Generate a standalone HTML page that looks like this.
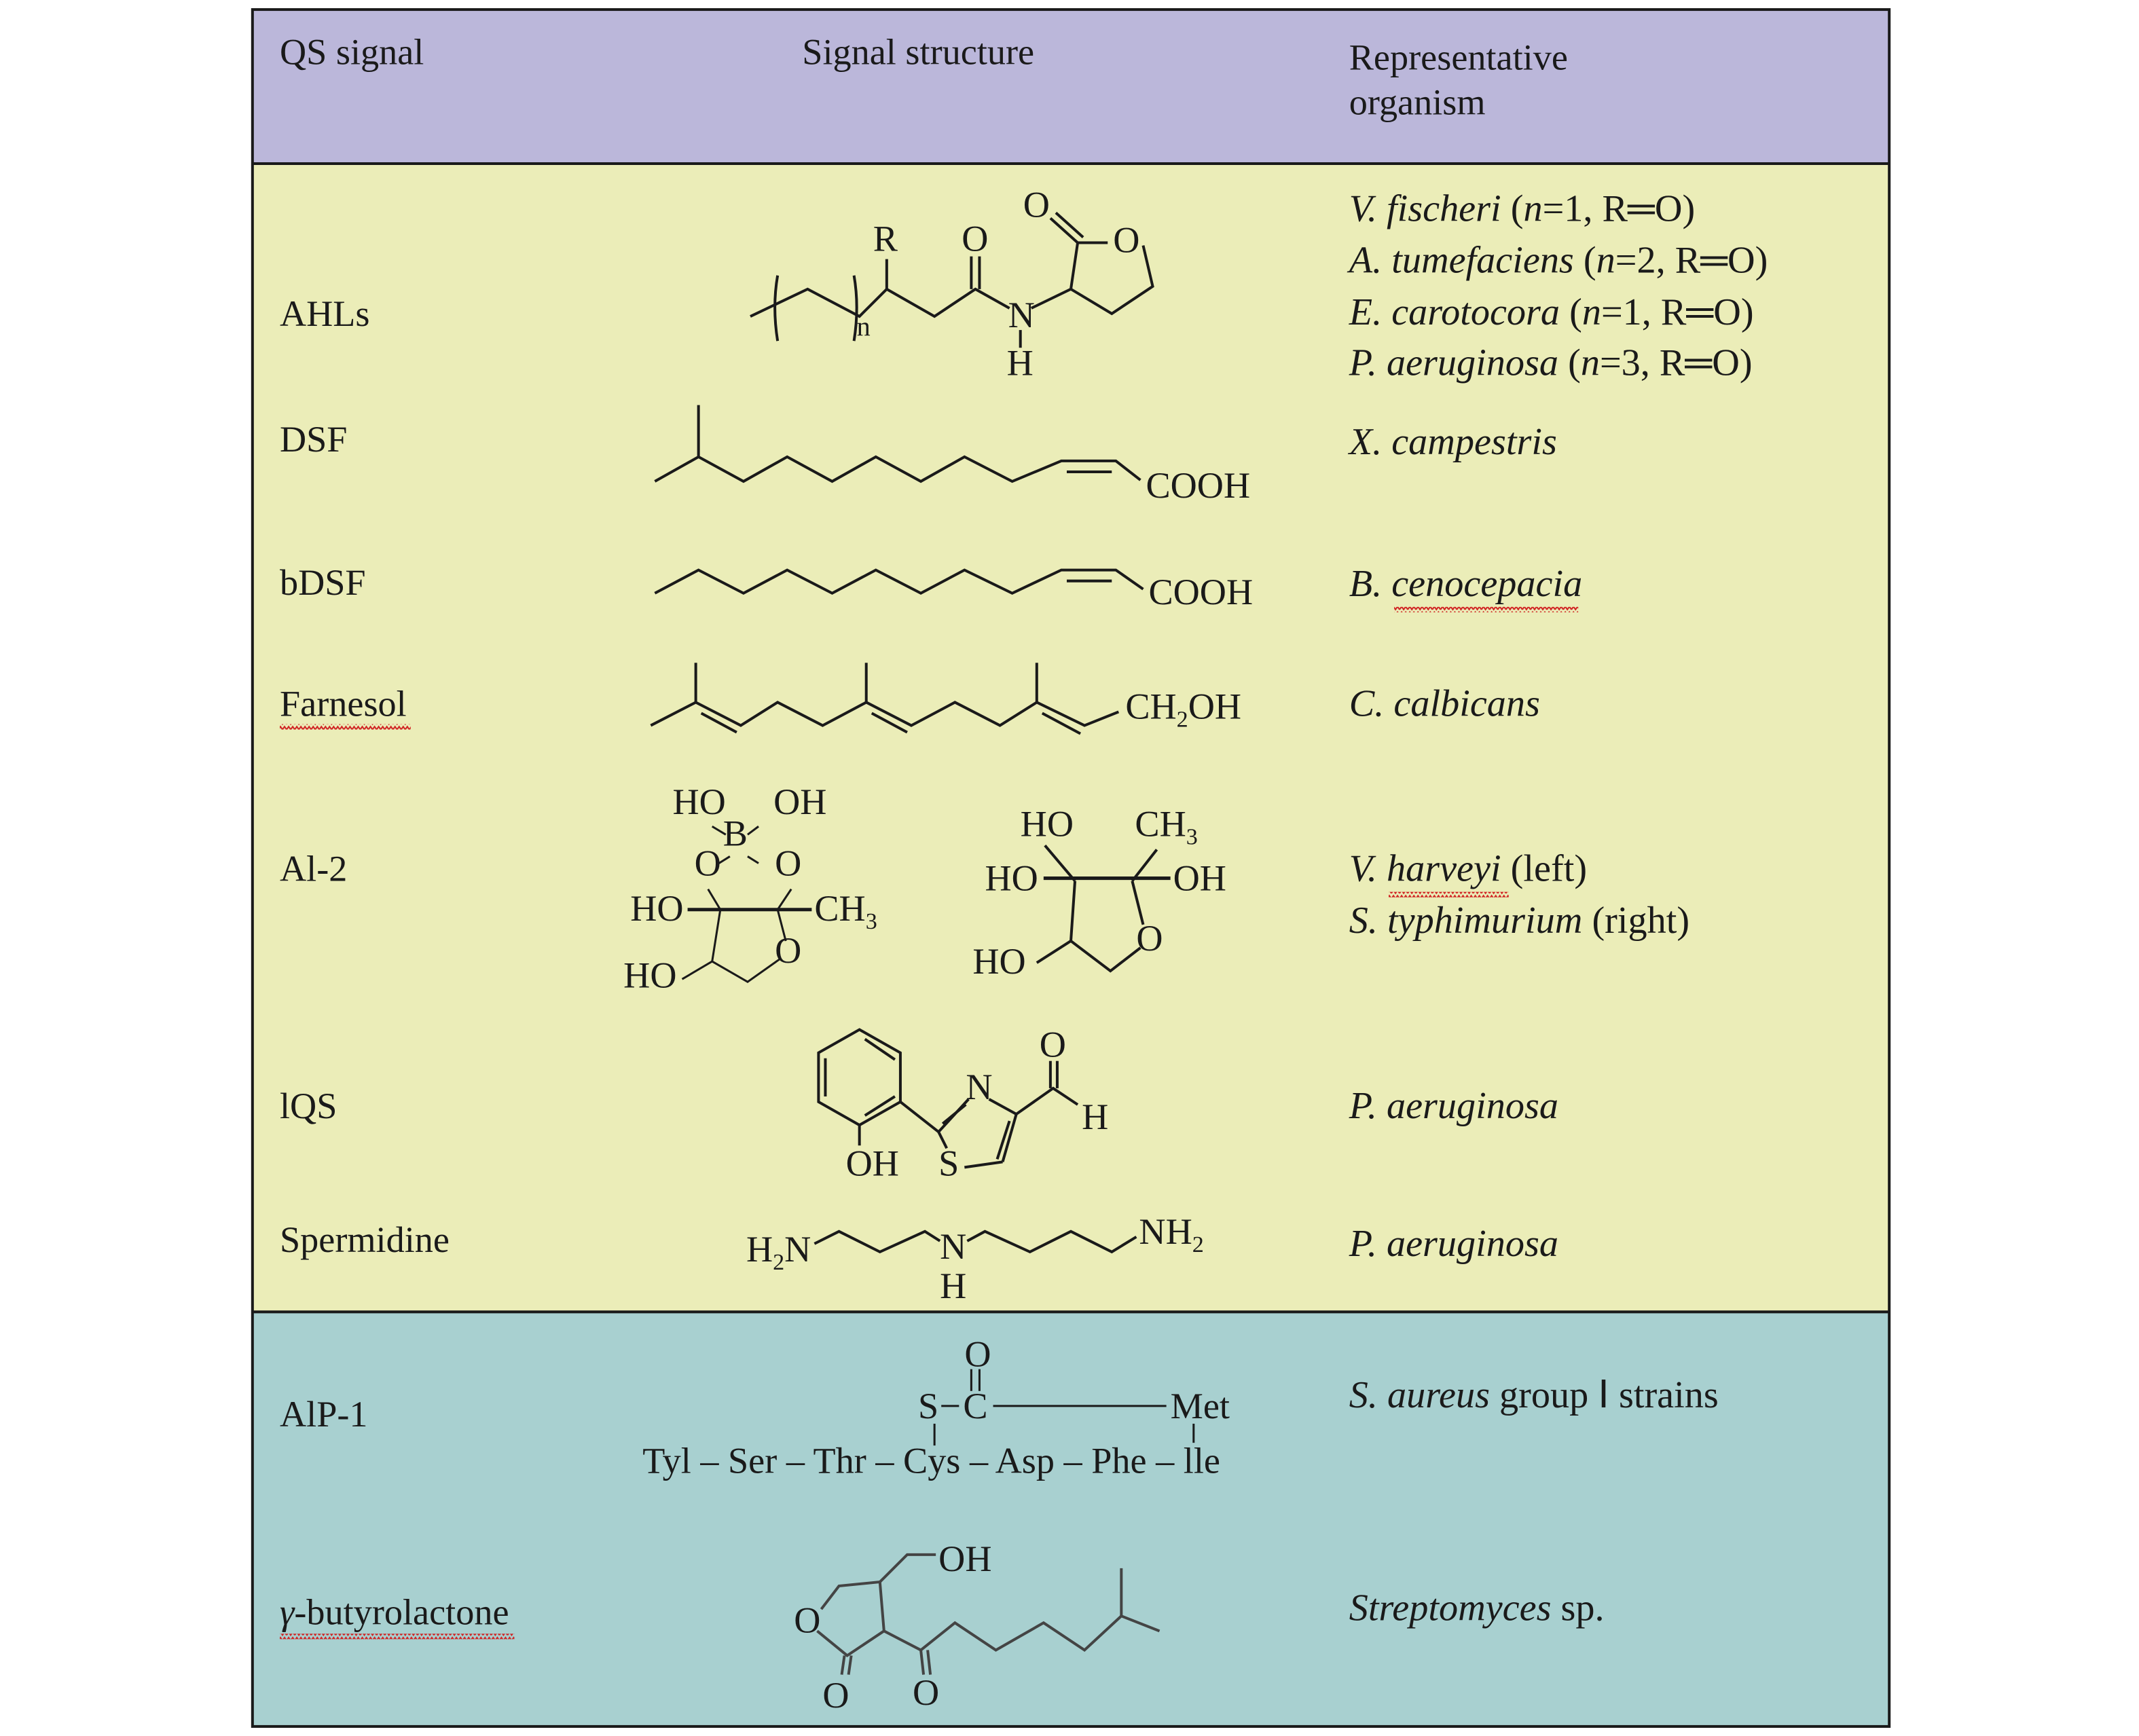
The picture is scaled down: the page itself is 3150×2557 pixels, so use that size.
<!DOCTYPE html>
<html><head><meta charset="utf-8"><style>
html,body{margin:0;padding:0;background:#fff;}
svg{display:block;}
text{font-family:"Liberation Serif",serif;font-size:27px;fill:#1a1a1a;}
.i{font-style:italic;}
.s{font-size:17px;}
.r{font-size:28px;}
</style></head><body>
<svg width="3150" height="2557" viewBox="0 0 1568 1273" xmlns="http://www.w3.org/2000/svg">
<defs>
<pattern id="wv" width="6" height="4" patternUnits="userSpaceOnUse"><path d="M0 3 L1.5 0.8 L3 3 L4.5 0.8 L6 3" fill="none" stroke="#d02020" stroke-width="1"/></pattern>
</defs>
<rect x="185" y="7" width="1200" height="113" fill="#bbb7da"/>
<rect x="185" y="120" width="1200" height="842" fill="#ebedb8"/>
<rect x="185" y="962" width="1200" height="304" fill="#a8d0d0"/>
<g stroke="#1a1a1a" stroke-width="2" fill="none">
<rect x="185" y="7" width="1200" height="1259"/>
<line x1="185" y1="120" x2="1385" y2="120"/>
<line x1="185" y1="962" x2="1385" y2="962"/>
</g>
<text x="205" y="47">QS signal</text>
<text x="588" y="47">Signal structure</text>
<text x="989" y="51">Representative</text>
<text x="989" y="84">organism</text>
<text x="205" y="239">AHLs</text>
<text x="205" y="331">DSF</text>
<text x="205" y="436">bDSF</text>
<text x="205" y="525">Farnesol</text>
<rect x="205" y="531" width="96" height="4" fill="url(#wv)"/>
<text x="205" y="646">Al-2</text>
<text x="205" y="820">lQS</text>
<text x="205" y="918">Spermidine</text>
<text x="205" y="1046">AlP-1</text>
<text x="205" y="1191"><tspan class="i">γ</tspan>-butyrolactone</text>
<rect x="205" y="1198" width="172" height="4" fill="url(#wv)"/>
<g class="r">
<text x="989" y="162" class="r"><tspan class="i">V. fischeri</tspan> (<tspan class="i">n</tspan>=1, R═O)</text>
<text x="989" y="200" class="r"><tspan class="i">A. tumefaciens</tspan> (<tspan class="i">n</tspan>=2, R═O)</text>
<text x="989" y="238" class="r"><tspan class="i">E. carotocora</tspan> (<tspan class="i">n</tspan>=1, R═O)</text>
<text x="989" y="275" class="r"><tspan class="i">P. aeruginosa</tspan> (<tspan class="i">n</tspan>=3, R═O)</text>
<text x="989" y="333" class="r i">X. campestris</text>
<text x="989" y="437" class="r i">B. cenocepacia</text>
<text x="989" y="525" class="r i">C. calbicans</text>
<text x="989" y="646" class="r"><tspan class="i">V. harveyi</tspan> (left)</text>
<text x="989" y="684" class="r"><tspan class="i">S. typhimurium</tspan> (right)</text>
<text x="989" y="820" class="r i">P. aeruginosa</text>
<text x="989" y="921" class="r i">P. aeruginosa</text>
<text x="989" y="1032" class="r"><tspan class="i">S. aureus</tspan> group Ⅰ strains</text>
<text x="989" y="1188" class="r"><tspan class="i">Streptomyces</tspan> sp.</text>
</g>
<rect x="1022" y="445" width="135" height="4" fill="url(#wv)"/>
<rect x="1018" y="654" width="88" height="4" fill="url(#wv)"/>

<g stroke="#1a1a1a" stroke-width="2" fill="none">
<polyline points="550,232 592,212 630,232 650,212 685,232 715,212 740,226"/>
<path d="M570 202 Q566 225 570 250 M626 202 Q630 225 626 250"/>
<line x1="650" y1="212" x2="650" y2="190"/>
<line x1="712" y1="212" x2="712" y2="188"/><line x1="718" y1="212" x2="718" y2="188"/>
<line x1="748" y1="242" x2="748" y2="255"/>
<polyline points="756,226 785,212 790,178 812,178"/>
<polyline points="838,180 845,210 815,230 785,212"/>
<line x1="790" y1="178" x2="770" y2="160"/><line x1="794" y1="174" x2="774" y2="156"/>
<polyline points="480,353 512,335 545,353 577,335 610,353 642,335 675,353 707,335 742,353 778,338 818,338 836,352"/>
<line x1="512" y1="335" x2="512" y2="297"/>
<line x1="782" y1="346" x2="815" y2="346"/>
<polyline points="480,435 512,418 545,435 577,418 610,435 642,418 675,435 707,418 742,435 778,418 818,418 838,432"/>
<line x1="782" y1="426" x2="815" y2="426"/>
<polyline points="477,532 510,515 543,532 570,515 603,532 635,515 668,532 700,515 733,532 760,515 795,532 820,522"/>
<line x1="510" y1="515" x2="510" y2="486"/><line x1="635" y1="515" x2="635" y2="486"/><line x1="760" y1="515" x2="760" y2="486"/>
<line x1="514" y1="523" x2="540" y2="537"/><line x1="639" y1="523" x2="665" y2="537"/><line x1="764" y1="523" x2="792" y2="538"/>
<line x1="522" y1="606" x2="532" y2="612" stroke-width="1.5"/><line x1="548" y1="612" x2="556" y2="606" stroke-width="1.5"/>
<line x1="527" y1="633" x2="535" y2="628" stroke-width="1.5"/><line x1="548" y1="628" x2="556" y2="633" stroke-width="1.5"/>
<polyline points="519,652 528,667 522,705 548,720 572,703" stroke-width="1.5"/>
<polyline points="580,652 570,667 576,690" stroke-width="1.5"/>
<line x1="504" y1="667" x2="595" y2="667" stroke-width="2.5"/>
<line x1="522" y1="705" x2="500" y2="718" stroke-width="1.5"/>
<line x1="766" y1="620" x2="788" y2="646"/><line x1="848" y1="623" x2="830" y2="646"/>
<line x1="765" y1="644" x2="858" y2="644" stroke-width="2.5"/>
<polyline points="788,646 785,690 814,712 836,695"/>
<line x1="830" y1="646" x2="838" y2="678"/>
<line x1="785" y1="690" x2="760" y2="706"/>
<polygon points="630,755 660,772 660,808 630,825 600,808 600,772"/>
<line x1="605" y1="776" x2="605" y2="804"/><line x1="656" y1="777" x2="634" y2="762"/><line x1="634" y1="818" x2="656" y2="804"/>
<line x1="630" y1="825" x2="630" y2="840"/>
<polyline points="660,808 688,830 710,806"/><line x1="691" y1="824" x2="708" y2="810"/>
<polyline points="725,806 745,817 772,798 790,810"/>
<line x1="745" y1="817" x2="735" y2="852" /><line x1="740" y1="822" x2="731" y2="850"/>
<line x1="735" y1="852" x2="707" y2="856"/><line x1="688" y1="830" x2="694" y2="842"/>
<line x1="770" y1="798" x2="770" y2="778"/><line x1="775" y1="798" x2="775" y2="778"/>
<polyline points="597,912 615,903 645,918 678,903 689,910"/>
<polyline points="709,910 722,903 755,918 785,903 815,918 833,907"/>
<line x1="712" y1="1004" x2="712" y2="1020" stroke-width="1.5"/><line x1="718" y1="1004" x2="718" y2="1020" stroke-width="1.5"/>
<line x1="690" y1="1031" x2="703" y2="1031" stroke-width="1.5"/>
<line x1="728" y1="1031" x2="855" y2="1031" stroke-width="1.5"/>
<line x1="685" y1="1044" x2="685" y2="1060" stroke-width="1.5"/><line x1="875" y1="1044" x2="875" y2="1058" stroke-width="1.5"/>
<g stroke="#444">
<polyline points="602,1180 615,1163 645,1160 648,1196 621,1214 599,1196"/>
<polyline points="645,1160 665,1140 686,1140"/>
<polyline points="648,1196 675,1210 700,1190 730,1210 765,1190 795,1210 822,1185 850,1196"/>
<line x1="822" y1="1185" x2="822" y2="1150"/>
<line x1="619" y1="1214" x2="617" y2="1228"/><line x1="624" y1="1214" x2="622" y2="1228"/>
<line x1="675" y1="1210" x2="677" y2="1228"/><line x1="680" y1="1210" x2="682" y2="1228"/>
</g>
</g>
<text x="640" y="184">R</text>
<text x="705" y="184">O</text>
<text x="750" y="159">O</text>
<text x="816" y="185">O</text>
<text x="739" y="240">N</text>
<text x="738" y="275">H</text>
<text x="628" y="246" style="font-size:20px">n</text>
<text x="840" y="365">COOH</text>
<text x="842" y="443">COOH</text>
<text x="825" y="527">CH<tspan class="s" dy="6">2</tspan><tspan dy="-6">OH</tspan></text>
<text x="493" y="597">HO</text><text x="567" y="597">OH</text>
<text x="530" y="620">B</text>
<text x="509" y="642">O</text><text x="568" y="642">O</text>
<text x="462" y="675">HO</text>
<text x="597" y="675">CH<tspan class="s" dy="6">3</tspan></text>
<text x="568" y="706">O</text>
<text x="457" y="724">HO</text>
<text x="748" y="613">HO</text>
<text x="832" y="613">CH<tspan class="s" dy="6">3</tspan></text>
<text x="722" y="653">HO</text><text x="860" y="653">OH</text>
<text x="833" y="697">O</text>
<text x="713" y="714">HO</text>
<text x="762" y="775">O</text>
<text x="708" y="806">N</text>
<text x="793" y="828">H</text>
<text x="688" y="862">S</text>
<text x="620" y="862">OH</text>
<text x="547" y="925">H<tspan class="s" dy="6">2</tspan><tspan dy="-6">N</tspan></text>
<text x="689" y="923">N</text>
<text x="689" y="952">H</text>
<text x="835" y="912">NH<tspan class="s" dy="6">2</tspan></text>
<text x="707" y="1002">O</text>
<text x="673" y="1040">S</text>
<text x="706" y="1040">C</text>
<text x="858" y="1040">Met</text>
<text x="471" y="1080">Tyl – Ser – Thr – Cys – Asp – Phe – lle</text>
<text x="688" y="1152">OH</text>
<text x="582" y="1197">O</text>
<text x="603" y="1252">O</text>
<text x="669" y="1250">O</text>
</svg>
</body></html>
